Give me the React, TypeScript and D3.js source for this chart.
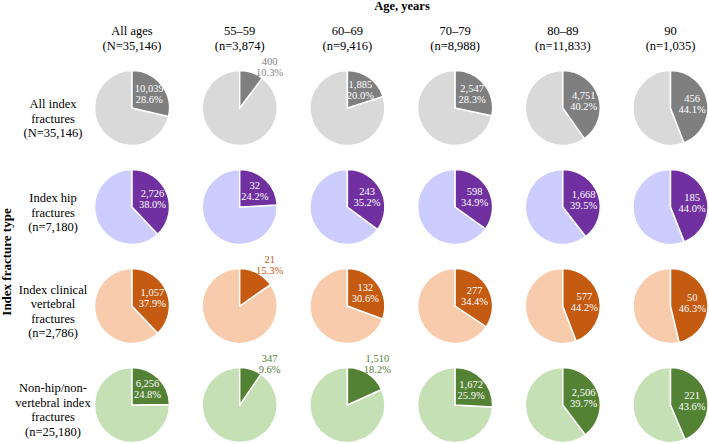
import React from "react";
import * as d3 from "d3";

const ageGroups = ["All ages", "55–59", "60–69", "70–79", "80–89", "90"];
const ageCounts = ["(N=35,146)", "(n=3,874)", "(n=9,416)", "(n=8,988)", "(n=11,833)", "(n=1,035)"];

const rowLabels = [
  ["All index", "fractures", "(N=35,146)"],
  ["Index hip", "fractures", "(n=7,180)"],
  ["Index clinical", "vertebral", "fractures", "(n=2,786)"],
  ["Non-hip/non-", "vertebral index", "fractures", "(n=25,180)"],
];

const countsAll = [10039, 400, 1885, 2547, 4751, 456];
const pctAll = [28.6, 10.3, 20.0, 28.3, 40.2, 44.1];
const countsHip = [2726, 32, 243, 598, 1668, 185];
const pctHip = [38.0, 24.2, 35.2, 34.9, 39.5, 44.0];
const countsVert = [1057, 21, 132, 277, 577, 50];
const pctVert = [37.9, 15.3, 30.6, 34.4, 44.2, 46.3];
const countsOther = [6256, 347, 1510, 1672, 2506, 221];
const pctOther = [24.8, 9.6, 18.2, 25.9, 39.7, 43.6];

const rowCounts = [countsAll, countsHip, countsVert, countsOther];
const rowPcts = [pctAll, pctHip, pctVert, pctOther];
const darkColors = ["#7f7f7f", "#7030a0", "#c55a11", "#548235"];
const lightColors = ["#d9d9d9", "#ccccff", "#f8cbad", "#c5e0b4"];

const W = 709;
const H = 444;
const FONT = "'Liberation Serif', 'Times New Roman', serif";

export default function App() {
  const x = d3.scaleLinear().domain([0, 5]).range([132, 670.5]);
  const y = d3.scaleLinear().domain([0, 3]).range([108, 405]);
  const R = 37.5;
  const arc = d3.arc<d3.PieArcDatum<number>>().innerRadius(0).outerRadius(R);
  const pie = d3.pie<number>().sort(null).value((d) => d);
  const fmt = d3.format(",");
  const labelR = 22;
  const outAngle = (36 * Math.PI) / 180;
  const outR = 51;
  const rowLabelOffset = [10.5, 5.5, 5.5, 5];
  const lineH = 14.6;

  return (
    <svg
      width={W}
      height={H}
      style={{ position: "absolute", left: 0, top: 0, background: "#fff" }}
      fontFamily={FONT}
    >
      <text x={402} y={10} textAnchor="middle" fontWeight="bold" fontSize={12.5} fill="#000">
        Age, years
      </text>
      <text
        transform={`translate(11,262) rotate(-90)`}
        textAnchor="middle"
        fontWeight="bold"
        fontSize={13}
        fill="#000"
      >
        Index fracture type
      </text>
      {ageGroups.map((g, i) => (
        <g key={g}>
          <text x={x(i)} y={35} textAnchor="middle" fontSize={12.5} fill="#000">
            {g}
          </text>
          <text x={x(i)} y={49.5} textAnchor="middle" fontSize={12.5} fill="#000">
            {ageCounts[i]}
          </text>
        </g>
      ))}
      {rowLabels.map((lines, r) => {
        const cy = y(r) + rowLabelOffset[r];
        const top = cy - ((lines.length - 1) * lineH) / 2;
        return (
          <g key={r}>
            {lines.map((l, k) => (
              <text
                key={k}
                x={53}
                y={top + k * lineH}
                dominantBaseline="central"
                textAnchor="middle"
                fontSize={12.5}
                fill="#000"
              >
                {l}
              </text>
            ))}
          </g>
        );
      })}
      {rowCounts.map((counts, r) =>
        counts.map((c, i) => {
          const p = rowPcts[r][i];
          const arcs = pie([p, 100 - p]);
          const a = arcs[0];
          const mid = (a.startAngle + a.endAngle) / 2;
          const inside = p >= 19;
          const lx = inside ? labelR * Math.sin(mid) : outR * Math.sin(outAngle);
          const ly = inside ? -labelR * Math.cos(mid) : -outR * Math.cos(outAngle);
          const tc = inside ? "#fff" : darkColors[r];
          return (
            <g key={`${r}-${i}`} transform={`translate(${x(i)},${y(r)})`}>
              <path d={arc(arcs[1]) || ""} fill={lightColors[r]} stroke="#fff" strokeWidth={1.5} strokeLinejoin="round" />
              <path d={arc(arcs[0]) || ""} fill={darkColors[r]} stroke="#fff" strokeWidth={1.5} strokeLinejoin="round" />
              <text x={lx} y={ly - 5.5} textAnchor="middle" dominantBaseline="central" fontSize={10.5} fill={tc}>
                {fmt(c)}
              </text>
              <text x={lx} y={ly + 5.5} textAnchor="middle" dominantBaseline="central" fontSize={10.5} fill={tc}>
                {p.toFixed(1)}%
              </text>
            </g>
          );
        })
      )}
    </svg>
  );
}
